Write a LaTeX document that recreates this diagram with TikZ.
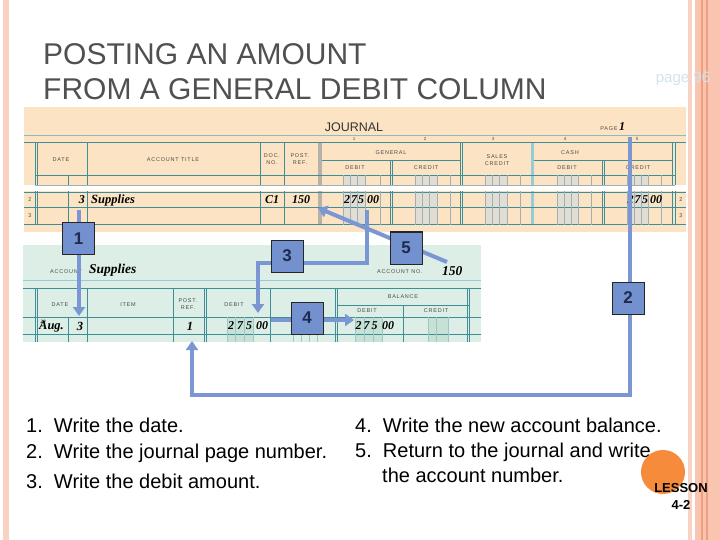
\documentclass[tikz,border=0pt]{standalone}
\usepackage{fontspec}
\setmainfont{Liberation Sans}
\newfontfamily\hand{Liberation Serif}
\newfontfamily\hdr[LetterSpace=14]{Liberation Sans}
\usetikzlibrary{arrows.meta}
\definecolor{peach}{HTML}{FCE3C3}
\definecolor{mint}{HTML}{DCEEE5}
\definecolor{tl}{HTML}{3E8E97}
\definecolor{ltl}{HTML}{96CCD6}
\definecolor{jband}{HTML}{E2DDD2}
\definecolor{jgray}{HTML}{B5B2A8}
\definecolor{dig}{HTML}{9FAFB3}
\definecolor{lband}{HTML}{C6E2D5}
\definecolor{bl}{HTML}{7A97D4}
\definecolor{boxfill}{HTML}{7390CF}
\definecolor{boxtext}{HTML}{1E2B4F}
\definecolor{ttl}{HTML}{505050}
\definecolor{pageblue}{HTML}{D3E3EC}
\definecolor{orng}{HTML}{F58B3B}
\definecolor{stripA}{HTML}{FAD2C3}
\definecolor{stripB}{HTML}{F9C5B0}
\definecolor{stripD}{HTML}{EF9E7E}
\definecolor{hd}{HTML}{4A4A4A}
\tikzset{
  hdrtxt/.style={font=\hdr\fontsize{5.5}{6.5}\selectfont, text=hd, inner sep=0},
  handtxt/.style={font=\hand\bfseries\itshape\fontsize{12}{12}\selectfont, inner sep=0},
  tline/.style={draw=tl, line width=0.7pt},
  dline/.style={draw=dig, line width=0.4pt},
  blline/.style={draw=bl, line width=4pt},
  blarrow/.style={blline, -{Triangle[width=12pt,length=9pt]}},
  stepbox/.style={draw=black!85, fill=boxfill, line width=1pt, minimum size=32pt, inner sep=0,
    font=\bfseries\fontsize{17}{17}\selectfont, text=boxtext},
  listtxt/.style={font=\fontsize{20}{22}\selectfont, anchor=west, inner sep=0},
}
\newcommand\amtdigits[6]{%
  \node[handtxt] (#1a) at (#2,#6) {2};
  \node[handtxt] (#1b) at (#3,#6) {7};
  \node[handtxt] (#1c) at (#4,#6) {5};
  \node[handtxt] (#1d) at (#5,#6) {00};
}
\begin{document}
\begin{tikzpicture}[x=1pt,y=-1pt]
\useasboundingbox (0,0) rectangle (720,540);
\fill[white] (0,0) rectangle (720,540);
% side stripes
\fill[stripA] (3,0) rectangle (9,540);
\fill[stripA] (688,0) rectangle (692,540);
\fill[stripB] (695,0) rectangle (720,540);
\draw[stripD, line width=1.2pt] (702,0) -- (702,540);
\draw[stripD, line width=1.2pt] (707,0) -- (707,540);
% title
\node[anchor=west, inner sep=0, text=ttl, font=\fontsize{30}{32}\selectfont] (t1) at (43,54) {POSTING AN AMOUNT};
\node[anchor=west, inner sep=0, text=ttl, font=\fontsize{30}{32}\selectfont] (t2) at (43,89) {FROM A GENERAL DEBIT COLUMN};
\node[inner sep=0, text=pageblue, font=\fontsize{15}{16}\selectfont] (pg) at (683,79) {page 96};

% ================= JOURNAL =================
\fill[peach] (24,107) rectangle (686,232);
\foreach \a/\b in {343/365,415/437,485/507,557/578,627/648} {
  \fill[jband] (\a,175) rectangle (\b,185);
  \fill[jband] (\a,191) rectangle (\b,225);
}
\fill[jgray] (318,142.5) rectangle (322,185);
\fill[jgray] (318,191) rectangle (322,225);
\fill[ltl] (531,142.5) rectangle (534,185);
\fill[ltl] (531,191) rectangle (534,225);
\fill[white] (24,185) rectangle (686,191.5);
% horizontals
\draw[draw=tl!60, line width=0.6pt] (24,135) -- (686,135);
\draw[tl, line width=1.2pt] (24,142.5) -- (686,142.5);
\draw[tline] (322,160) -- (460,160) (534,160) -- (672,160);
\draw[tline, line width=0.5pt] (35,175) -- (675,175);
\draw[dline] (35,185) -- (675,185);
\draw[tline, line width=0.5pt] (24,192) -- (686,192);
\draw[tline, line width=0.5pt] (24,207.5) -- (686,207.5);
\draw[tl, line width=1.6pt] (24,224.5) -- (686,224.5);
% verticals
\foreach \x in {35,37.5,87,260,284,460,462.5,672,675} {
  \draw[tline, line width=0.5pt] (\x,142.5) -- (\x,185) (\x,191.5) -- (\x,225);
}
\foreach \x in {390,392.5,602,604.5} {
  \draw[tline, line width=0.5pt] (\x,160) -- (\x,185) (\x,191.5) -- (\x,225);
}
\draw[tline, line width=0.5pt] (68,175) -- (68,185) (68,191.5) -- (68,225);
\foreach \x in {343,350,357.5,365,380,415,422,429.5,437,450,485,492,499.5,507,520,557,564,571,578,591,627,634,641,648,661} {
  \draw[dline] (\x,175) -- (\x,185) (\x,191.5) -- (\x,225);
}
% journal texts
\node[inner sep=0, font=\fontsize{12.5}{13}\selectfont, text=black!80] (jt) at (354,127) {JOURNAL};
\node[hdrtxt] (jpg) at (609,128.5) {PAGE};
\node[handtxt] (jpn) at (622,127) {1};
\node[hdrtxt, font=\hdr\fontsize{4.5}{5}\selectfont] (c1) at (354,139) {1};
\node[hdrtxt, font=\hdr\fontsize{4.5}{5}\selectfont] (c2) at (425,139) {2};
\node[hdrtxt, font=\hdr\fontsize{4.5}{5}\selectfont] (c3) at (493,139) {3};
\node[hdrtxt, font=\hdr\fontsize{4.5}{5}\selectfont] (c4) at (565,139) {4};
\node[hdrtxt, font=\hdr\fontsize{4.5}{5}\selectfont] (c5) at (637,139) {5};
\node[hdrtxt] (jh1) at (61,160) {DATE};
\node[hdrtxt] (jh2) at (173,160) {ACCOUNT TITLE};
\node[hdrtxt, align=center] (jh3) at (272,159) {DOC.\\NO.};
\node[hdrtxt, align=center] (jh4) at (300,159) {POST.\\REF.};
\node[hdrtxt] (jh5) at (391,153) {GENERAL};
\node[hdrtxt] (jh6) at (355,168) {DEBIT};
\node[hdrtxt] (jh7) at (426,168) {CREDIT};
\node[hdrtxt, align=center] (jh8) at (497,160) {SALES\\CREDIT};
\node[hdrtxt] (jh9) at (570,153) {CASH};
\node[hdrtxt] (jh10) at (567,168) {DEBIT};
\node[hdrtxt] (jh11) at (638,168) {CREDIT};
\node[hdrtxt] (jr2) at (30,200) {2};
\node[hdrtxt] (jr3) at (30,215.5) {3};
\node[hdrtxt] (jr2b) at (681,200) {2};
\node[hdrtxt] (jr3b) at (681,215.5) {3};
\node[handtxt, anchor=east] (jd) at (85,200) {3};
\node[handtxt, anchor=west, font=\hand\bfseries\itshape\fontsize{12.5}{13}\selectfont] (jacc) at (91,200) {Supplies};
\node[handtxt] (jdoc) at (272,200) {C1};
\node[handtxt] (jref) at (301,200) {150};
\amtdigits{jdeb}{347}{354}{361}{373}{200}
\amtdigits{jcr}{630.5}{637.5}{645}{656}{200}

% ================= LEDGER =================
\fill[mint] (23,245) rectangle (481,342);
\foreach \a/\b in {227/253,355/382,428/448} {\fill[lband] (\a,317) rectangle (\b,342);}
\draw[ltl, line width=0.7pt] (23,280) -- (481,280);
\draw[tl, line width=1pt] (23,288) -- (481,288);
\draw[tline, line width=0.5pt] (337.5,305) -- (469.5,305);
\draw[tline, line width=0.6pt] (23,317) -- (481,317);
\draw[tline, line width=0.6pt] (23,334) -- (481,334);
\foreach \x in {35,37.5,87,173,204,206.5,270,335,337.5,467,469.5} {
  \draw[tline, line width=0.5pt] (\x,288) -- (\x,342);
}
\draw[tline, line width=0.5pt] (68,317) -- (68,342);
\draw[tline, line width=0.5pt] (403,305) -- (403,342);
\foreach \x in {227,235.5,244,253,293,301,309,317,355,364,373,382,428,436,448} {
  \draw[dline, draw=tl!50] (\x,317) -- (\x,342);
}
\node[hdrtxt] (la) at (66,272) {ACCOUNT};
\node[handtxt, anchor=west, font=\hand\bfseries\itshape\fontsize{13.5}{14}\selectfont] (ls) at (89,270) {Supplies};
\node[hdrtxt, anchor=west] (lan) at (377,272) {ACCOUNT NO.};
\node[handtxt, anchor=west, font=\hand\bfseries\itshape\fontsize{13.5}{14}\selectfont] (lno) at (442,271) {150};
\node[hdrtxt] (lh1) at (60,305) {DATE};
\node[hdrtxt] (lh2) at (128,305) {ITEM};
\node[hdrtxt, align=center] (lh3) at (188,304) {POST.\\REF.};
\node[hdrtxt] (lh4) at (234,305) {DEBIT};
\node[hdrtxt] (lh5) at (303,305) {CREDIT};
\node[hdrtxt] (lh6) at (403,297) {BALANCE};
\node[hdrtxt] (lh7) at (367,311) {DEBIT};
\node[hdrtxt] (lh8) at (436,311) {CREDIT};
\node[handtxt, anchor=west, font=\hand\bfseries\itshape\fontsize{12.5}{13}\selectfont] (laug) at (39,326) {A\llap{\raisebox{6pt}{\fontsize{5}{5}\selectfont 20}\hspace{2pt}}ug.};
\node[handtxt, font=\hand\bfseries\itshape\fontsize{12.5}{13}\selectfont] (ld) at (80,326) {3};
\node[handtxt, font=\hand\bfseries\itshape\fontsize{12.5}{13}\selectfont] (lpr) at (190,326) {1};
\amtdigits{ldeb}{231}{240}{249}{262}{326}
\amtdigits{lbal}{358.5}{366.5}{374.5}{388}{326}

% ================= CONNECTORS =================
\coordinate (a1s) at (79,210);
\coordinate (a1e) at (79,316);
\coordinate (a2s) at (630,137);
\coordinate (a2c1) at (630,395);
\coordinate (a2c2) at (192,395);
\coordinate (a2e) at (192,341);
\coordinate (a3s) at (367,210);
\coordinate (a3c1) at (367,263);
\coordinate (a3c2) at (258,263);
\coordinate (a3e) at (258,313);
\coordinate (a4s) at (271,320);
\coordinate (a4e) at (354,320);
\coordinate (a5s) at (447,262);
\coordinate (a5e) at (318,208);
\draw[blarrow] (a1s) -- (a1e);
\draw[blarrow, line join=miter] (a2s) -- (a2c1) -- (a2c2) -- (a2e);
\draw[blarrow, line join=miter] (a3s) -- (a3c1) -- (a3c2) -- (a3e);
\draw[blarrow] (a4s) -- (a4e);
\draw[blarrow] (a5s) -- (a5e);
\node[stepbox] (b1) at (78.5,238.5) {1};
\node[stepbox] (b2) at (628,298) {2};
\node[stepbox] (b3) at (287,256) {3};
\node[stepbox] (b4) at (307,318) {4};
\node[stepbox] (b5) at (406,248) {5};

% ================= LIST =================
\node[listtxt] (l1) at (26,425) {1.\ \ Write the date.};
\node[listtxt] (l2) at (26,453) {2.\ \ Write the journal page number.};
\node[listtxt] (l3) at (26,481) {3.\ \ Write the debit amount.};
\node[listtxt] (l4) at (355,425) {4.\ \ Write the new account balance.};
\node[listtxt] (l5) at (355,452) {5.\ \ Return to the journal and write};
\node[listtxt] (l6) at (382,475) {the account number.};

% lesson badge
\fill[orng] (663,472) circle (22);
\node[inner sep=0, align=center, font=\bfseries\fontsize{13}{17}\selectfont] (les) at (681,496) {LESSON\\4-2};
\end{tikzpicture}
\end{document}
